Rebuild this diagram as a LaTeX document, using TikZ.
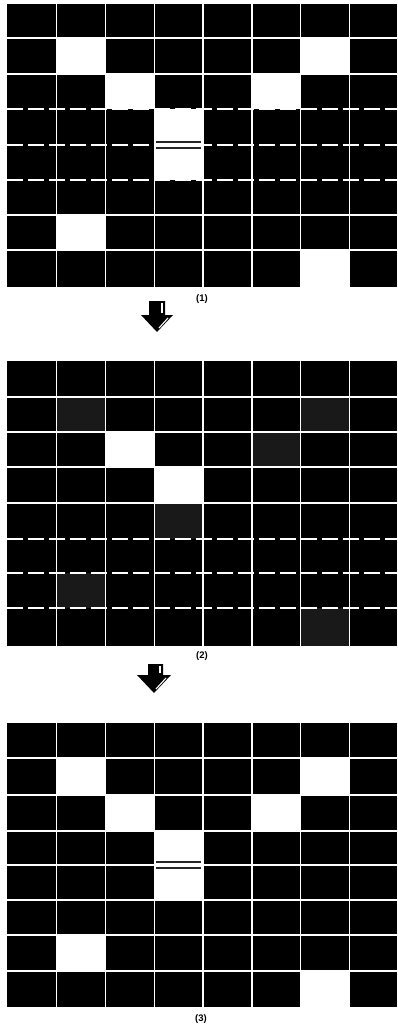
\documentclass[tikz,border=0pt]{standalone}
\usepackage{fontspec}
\setmainfont{Liberation Sans}
\tikzset{
  gl/.style={white,line width=1.6pt},
  gld/.style={white,line width=1.6pt,dash pattern=on 16pt off 5pt},
  cellw/.style={fill=white},
  celln/.style={fill=black!90},
  midl/.style={black!85,line width=1.5pt},
  lab/.style={font=\fontsize{9.5}{11}\selectfont\bfseries,inner sep=0pt},
  barrow/.style={fill=black},
  hl/.style={white,line width=1.1pt}
}
\begin{document}
\begin{tikzpicture}[x=1pt,y=-1pt]
\fill[white] (0,0) rectangle (398,1031);
\useasboundingbox (0,0) rectangle (398,1031);
% ---------- grid 1 ----------
\fill[black] (7,4) rectangle (397,287);
\fill[cellw] (56.5,38) rectangle (105.5,74);
\fill[cellw] (300.5,38) rectangle (349.5,74);
\fill[cellw] (105.5,74) rectangle (154.5,109);
\fill[cellw] (252,74) rectangle (300.5,109);
\fill[cellw] (154.5,109) rectangle (203,180);
\fill[cellw] (56.5,215) rectangle (105.5,250);
\fill[cellw] (300.5,250) rectangle (349.5,287);
\foreach \x in {56.5,105.5,154.5,203,252,300.5,349.5} \draw[gl] (\x,4) -- (\x,287);
\foreach \y in {38,74,215,250} \draw[gl] (7,\y) -- (397,\y);
\foreach \y in {109,145,180} \draw[gld] (7,\y) -- (397,\y);
\draw[midl] (156,142) -- (201,142);
\draw[midl] (156,148) -- (201,148);
\node[lab] (l1) at (202,299) {(1)};
% arrow 1
\fill[barrow] (149,301) -- (165,301) -- (165,315) -- (173,315) -- (157,332) -- (141,315) -- (149,315) -- cycle;
\draw[hl] (162,303) -- (162,313);
\draw[hl] (168,318) -- (159,328);
% ---------- grid 2 ----------
\fill[black] (7,361) rectangle (397,646);
\fill[cellw] (105.5,432) rectangle (154.5,467);
\fill[cellw] (154.5,467) rectangle (203,503);
\fill[celln] (56.5,397) rectangle (105.5,432);
\fill[celln] (300.5,397) rectangle (349.5,432);
\fill[celln] (252,432) rectangle (300.5,467);
\fill[celln] (154.5,503) rectangle (203,539);
\fill[celln] (56.5,573) rectangle (105.5,608);
\fill[celln] (300.5,608) rectangle (349.5,646);
\foreach \x in {56.5,105.5,154.5,203,252,300.5,349.5} \draw[gl] (\x,361) -- (\x,646);
\foreach \y in {397,432,467,503} \draw[gl] (7,\y) -- (397,\y);
\foreach \y in {539,573,608} \draw[gld] (7,\y) -- (397,\y);
\node[lab] (l2) at (202,656) {(2)};
% arrow 2
\fill[barrow] (148,664) -- (163,664) -- (163,675) -- (171,675) -- (154,693) -- (137,675) -- (148,675) -- cycle;
\draw[hl] (160,666) -- (160,673);
\draw[hl] (166,678) -- (156,689);
% ---------- grid 3 ----------
\fill[black] (7,723) rectangle (397,1007);
\fill[cellw] (56.5,758) rectangle (105.5,795);
\fill[cellw] (300.5,758) rectangle (349.5,795);
\fill[cellw] (105.5,795) rectangle (154.5,831);
\fill[cellw] (252,795) rectangle (300.5,831);
\fill[cellw] (154.5,831) rectangle (203,900);
\fill[cellw] (56.5,935) rectangle (105.5,971);
\fill[cellw] (300.5,971) rectangle (349.5,1007);
\foreach \x in {56.5,105.5,154.5,203,252,300.5,349.5} \draw[gl] (\x,723) -- (\x,1007);
\foreach \y in {758,795,831,865,900,935,971} \draw[gl] (7,\y) -- (397,\y);
\draw[midl] (156,862) -- (201,862);
\draw[midl] (156,868) -- (201,868);
\node[lab] (l3) at (201,1019) {(3)};
\end{tikzpicture}
\end{document}
